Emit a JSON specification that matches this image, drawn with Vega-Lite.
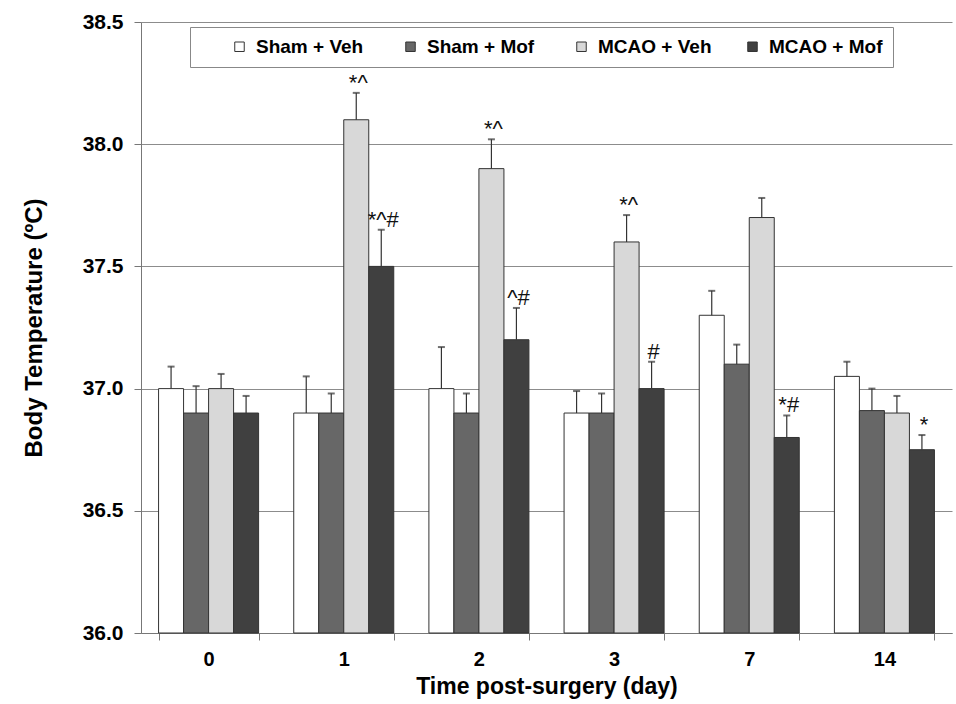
{
"$schema":"https://vega.github.io/schema/vega-lite/v6.json",
"width":811,"height":611,
"autosize":{"type":"none"},
"padding":{"left":141,"top":22,"right":4,"bottom":71},
"background":"#ffffff",
"config":{"font":"Liberation Sans","view":{"stroke":null}},
"data":{"values":[
{"day":"0","grp":"Sham + Veh","mean":37.0,"upper":37.09,"sig":""},
{"day":"0","grp":"Sham + Mof","mean":36.9,"upper":37.01,"sig":""},
{"day":"0","grp":"MCAO + Veh","mean":37.0,"upper":37.06,"sig":""},
{"day":"0","grp":"MCAO + Mof","mean":36.9,"upper":36.97,"sig":""},
{"day":"1","grp":"Sham + Veh","mean":36.9,"upper":37.05,"sig":""},
{"day":"1","grp":"Sham + Mof","mean":36.9,"upper":36.98,"sig":""},
{"day":"1","grp":"MCAO + Veh","mean":38.1,"upper":38.21,"sig":"*^"},
{"day":"1","grp":"MCAO + Mof","mean":37.5,"upper":37.65,"sig":"*^#"},
{"day":"2","grp":"Sham + Veh","mean":37.0,"upper":37.17,"sig":""},
{"day":"2","grp":"Sham + Mof","mean":36.9,"upper":36.98,"sig":""},
{"day":"2","grp":"MCAO + Veh","mean":37.9,"upper":38.02,"sig":"*^"},
{"day":"2","grp":"MCAO + Mof","mean":37.2,"upper":37.33,"sig":"^#"},
{"day":"3","grp":"Sham + Veh","mean":36.9,"upper":36.99,"sig":""},
{"day":"3","grp":"Sham + Mof","mean":36.9,"upper":36.98,"sig":""},
{"day":"3","grp":"MCAO + Veh","mean":37.6,"upper":37.71,"sig":"*^"},
{"day":"3","grp":"MCAO + Mof","mean":37.0,"upper":37.11,"sig":"#"},
{"day":"7","grp":"Sham + Veh","mean":37.3,"upper":37.40,"sig":""},
{"day":"7","grp":"Sham + Mof","mean":37.1,"upper":37.18,"sig":""},
{"day":"7","grp":"MCAO + Veh","mean":37.7,"upper":37.78,"sig":""},
{"day":"7","grp":"MCAO + Mof","mean":36.8,"upper":36.89,"sig":"*#"},
{"day":"14","grp":"Sham + Veh","mean":37.05,"upper":37.11,"sig":""},
{"day":"14","grp":"Sham + Mof","mean":36.91,"upper":37.00,"sig":""},
{"day":"14","grp":"MCAO + Veh","mean":36.90,"upper":36.97,"sig":""},
{"day":"14","grp":"MCAO + Mof","mean":36.75,"upper":36.81,"sig":"*"}
]},
"encoding":{
 "x":{"field":"day","type":"nominal","sort":["0","1","2","3","7","14"],
   "scale":{"paddingInner":0.26,"paddingOuter":0.13},
   "title":"Time post-surgery (day)",
   "axis":{"labelAngle":0,"labelFontSize":20,"labelFontWeight":"bold","labelColor":"#000","labelPadding":9,
     "tickBand":"extent","tickSize":7,"tickColor":"#777","domainColor":"#777","grid":false,
     "titleFontSize":23,"titleFontWeight":"bold","titleColor":"#000","titlePadding":6}},
 "xOffset":{"field":"grp","type":"nominal","sort":["Sham + Veh","Sham + Mof","MCAO + Veh","MCAO + Mof"],
   "scale":{"paddingInner":0,"paddingOuter":0}}
},
"layer":[
 {"mark":{"type":"bar","stroke":"#333","strokeWidth":1},
  "encoding":{
   "y":{"field":"mean","type":"quantitative","scale":{"domain":[36,38.5],"zero":false,"nice":false},
     "title":"Body Temperature (ºC)",
     "axis":{"values":[36,36.5,37,37.5,38,38.5],"format":".1f","labelFontSize":21,"labelFontWeight":"bold","labelColor":"#000",
       "labelPadding":11,"tickSize":7,"tickColor":"#777","domainColor":"#777","grid":true,"gridColor":"#8c8c8c","gridWidth":1,
       "titleFontSize":24,"titleFontWeight":"bold","titleColor":"#000","titlePadding":36}},
   "y2":{"datum":36},
   "color":{"field":"grp","type":"nominal","sort":["Sham + Veh","Sham + Mof","MCAO + Veh","MCAO + Mof"],
     "scale":{"domain":["Sham + Veh","Sham + Mof","MCAO + Veh","MCAO + Mof"],"range":["#ffffff","#676767","#d8d8d8","#404040"]},
     "legend":{"orient":"none","legendX":49,"legendY":5,"direction":"horizontal","columns":4,"gridAlign":"all",
       "title":"\u00a0","titleOrient":"left","titlePadding":30,"titleFontSize":19,
       "padding":10,"strokeColor":"#888","fillColor":"#ffffff",
       "symbolType":"square","symbolSize":90,"symbolStrokeColor":"#333","symbolStrokeWidth":1,
       "labelFontSize":19,"labelFontWeight":"bold","labelColor":"#000","labelOffset":7,"labelLimit":400,
       "columnPadding":31}}
  }},
 {"mark":{"type":"rule","color":"#333","strokeWidth":1.2},
  "encoding":{"y":{"field":"mean","type":"quantitative"},"y2":{"field":"upper"}}},
 {"mark":{"type":"tick","color":"#333","thickness":2,"size":7,"orient":"horizontal"},
  "encoding":{"y":{"field":"upper","type":"quantitative"}}},
 {"mark":{"type":"text","fontSize":22,"dy":-3,"dx":2,"baseline":"alphabetic","align":"center","color":"#111"},
  "encoding":{"y":{"field":"upper","type":"quantitative"},"text":{"field":"sig"}}}
]
}
